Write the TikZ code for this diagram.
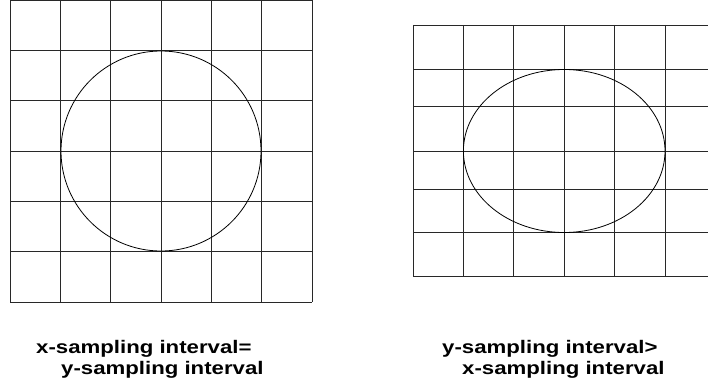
\documentclass[tikz,border=0pt]{standalone}
\usepackage{fontspec}
\usepackage{tikz}
\newfontfamily\captionfont[FakeStretch=1.22]{Liberation Sans}
\definecolor{gridblack}{RGB}{40,40,40}

\begin{document}
\begin{tikzpicture}[
  x=1pt, y=1pt,
  gridline/.style={line width=0.7pt, draw=gridblack},
  shapeline/.style={line width=0.8pt, draw=black},
  caption/.style={anchor=base west, inner sep=0pt,
    font=\captionfont\bfseries\fontsize{18.2}{21}\selectfont}
]
  \useasboundingbox (0,0) rectangle (708,389);

  % equal sampling: square cells, circle stays a circle
  \foreach \i in {0,...,6} {
    \draw[gridline] (10+\i*50.33,389) -- (10+\i*50.33,87);
    \draw[gridline] (10,389-\i*50.33) -- (312,389-\i*50.33);
  }
  \draw[shapeline] (161,238) circle[radius=100];

  % coarser y sampling: circle comes out as an ellipse
  \foreach \i in {0,...,5} {
    \draw[gridline] (413+\i*50.4,364) -- (413+\i*50.4,112.3);
  }
  \foreach \y in {364,320,282.3,238,200,156.7,112.3} {
    \draw[gridline] (413,\y) -- (708,\y);
  }
  \draw[shapeline] (564.2,238) ellipse[x radius=100.8, y radius=81.5];

  \node[caption] (leftone) at (36,36) {x-sampling interval=};
  \node[caption] (lefttwo) at (61,15) {y-sampling interval};
  \node[caption] (rightone) at (442,36) {y-sampling interval>};
  \node[caption] (righttwo) at (462,15) {x-sampling interval};
\end{tikzpicture}
\end{document}
